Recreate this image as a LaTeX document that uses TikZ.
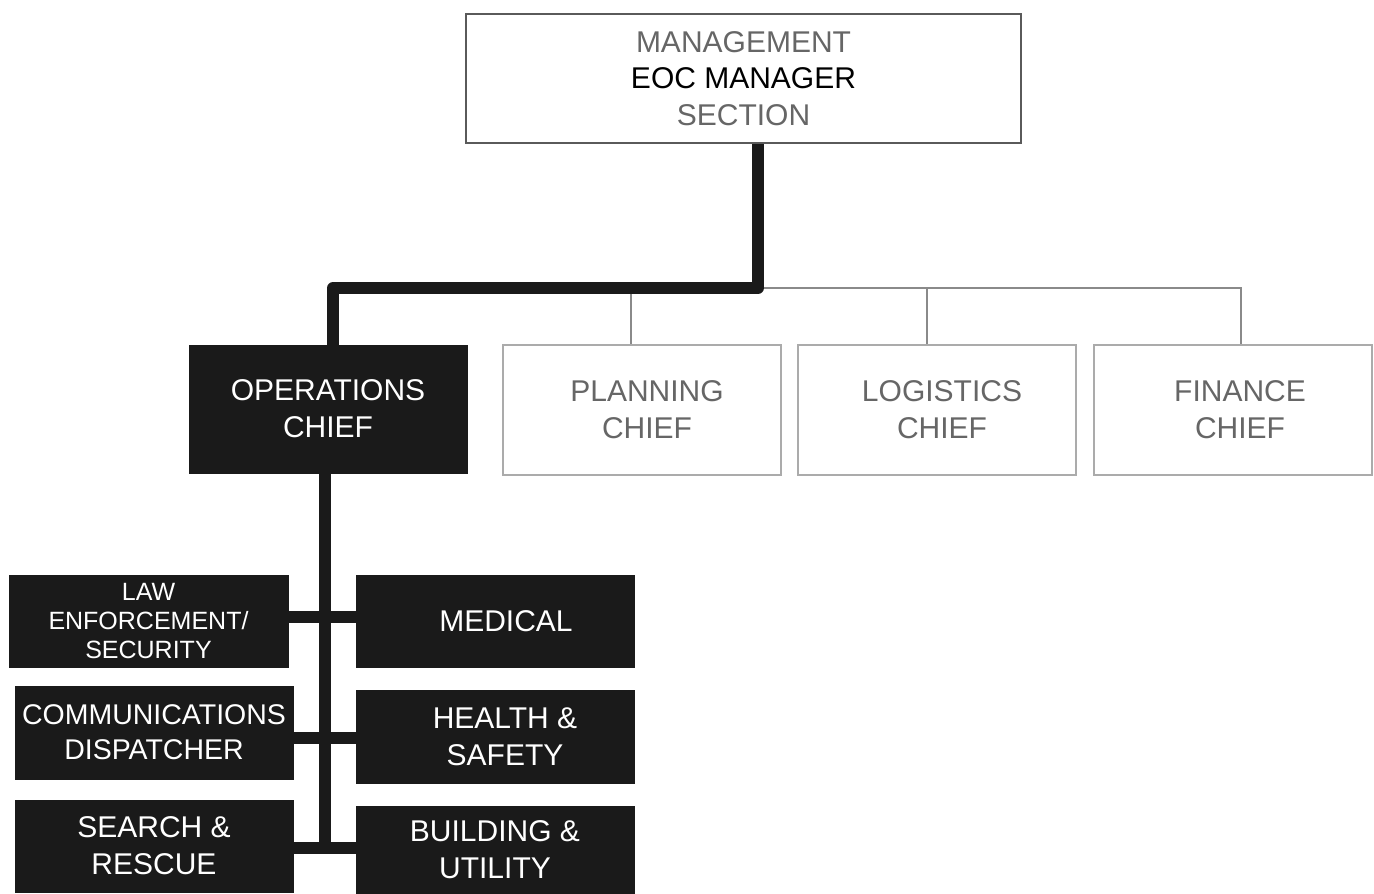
\documentclass[tikz,border=0pt]{standalone}
\usepackage{fontspec}
\setmainfont{Liberation Sans}
\definecolor{boxblack}{HTML}{1A1A1A}
\definecolor{linegray}{HTML}{8A8A8A}
\definecolor{edgegray}{HTML}{ABABAB}
\definecolor{topedge}{HTML}{5A5A5A}
\definecolor{textgray}{HTML}{666666}
\newcommand{\sh}[1]{\hspace*{#1}}
\begin{document}
\begin{tikzpicture}[x=1pt,y=-1pt,
  darkbox/.style={fill=boxblack, draw=boxblack, text=white, inner sep=0pt, align=center,
    minimum width=278pt, font=\fontsize{30}{37}\selectfont},
  lightbox/.style={fill=white, draw=edgegray, line width=2pt, text=textgray, inner sep=0pt, align=center,
    minimum width=278pt, minimum height=130pt, font=\fontsize{30}{37}\selectfont},
  topbox/.style={fill=white, draw=topedge, line width=2pt, text=textgray, inner sep=0pt, align=center,
    minimum width=555pt, minimum height=129pt, font=\fontsize{30}{36.5}\selectfont},
  heavy/.style={draw=boxblack, line width=12pt, line join=round},
  light/.style={draw=linegray, line width=1.5pt}]
\useasboundingbox (0,0) rectangle (1374,894);
\fill[white] (0,0) rectangle (1374,894);

% top
\node[topbox] (top) at (743.5,78.5) {MANAGEMENT\\\textcolor{black}{EOC MANAGER}\\SECTION};

% chiefs
\node[darkbox, minimum height=128pt] (ops) at (328,409) {\raisebox{-3pt}{OPERATIONS}\\\raisebox{-3pt}{CHIEF}};
\node[lightbox] (plan) at (642,410) {\sh{10pt}PLANNING\\\sh{10pt}CHIEF};
\node[lightbox] (log) at (937,410) {\sh{10pt}LOGISTICS\\\sh{10pt}CHIEF};
\node[lightbox] (fin) at (1233,410) {\sh{14pt}FINANCE\\\sh{14pt}CHIEF};

% units
\node[darkbox, minimum height=92pt, minimum width=279pt, font=\fontsize{25}{29}\selectfont] (law) at (148.5,621) {LAW\\ENFORCEMENT/\\SECURITY};
\node[darkbox, minimum height=92pt] (med) at (495,621) {\sh{22pt}MEDICAL};
\node[darkbox, minimum height=93pt, font=\fontsize{28.5}{35}\selectfont] (comm) at (154,732.5) {COMMUNICATIONS\\DISPATCHER};
\node[darkbox, minimum height=93pt] (health) at (495,736.5) {\sh{20pt}HEALTH \&\\\sh{20pt}SAFETY};
\node[darkbox, minimum height=92pt] (search) at (154,846) {SEARCH \&\\RESCUE};
\node[darkbox, minimum height=88pt] (build) at (495,850) {BUILDING \&\\UTILITY};

% junctions
\coordinate (j) at (758,288);
\coordinate (h1) at (325,617);
\coordinate (h2) at (325,738);
\coordinate (h3) at (325,848);

% thin connectors
\draw[light] (j) -| ([xshift=8pt]fin.north);
\draw[light] ([xshift=-11pt]plan.north |- j) -- ([xshift=-11pt]plan.north);
\draw[light] ([xshift=-10pt]log.north |- j) -- ([xshift=-10pt]log.north);

% heavy connectors
\draw[heavy] ([xshift=14.5pt]top.south) -- (j) -| ([xshift=5pt]ops.north);
\draw[heavy] ([xshift=-3pt]ops.south) -- (h3);
\draw[heavy] (law.east |- h1) -- (med.west |- h1);
\draw[heavy] (comm.east |- h2) -- (health.west |- h2);
\draw[heavy] (search.east |- h3) -- (build.west |- h3);
\end{tikzpicture}
\end{document}
